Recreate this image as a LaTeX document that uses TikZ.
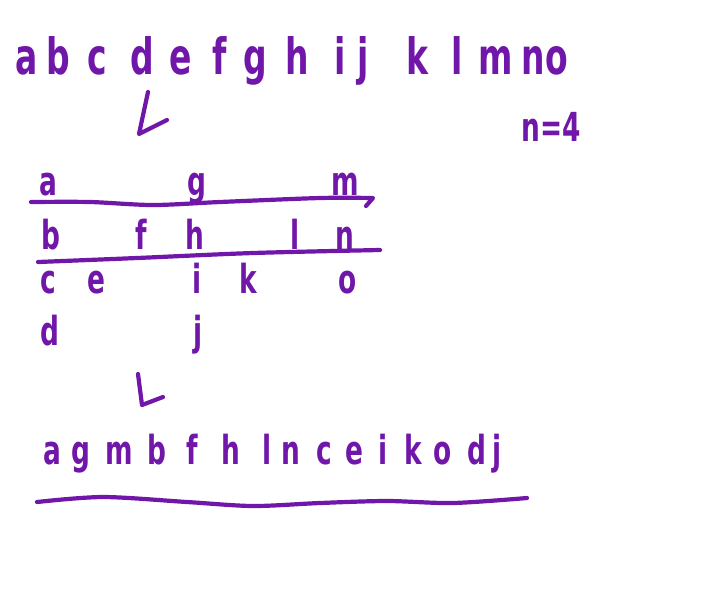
\documentclass[tikz,border=0pt]{standalone}
\usepackage{fontspec}
\setmainfont{DejaVu Sans}[FakeStretch=0.66,UprightFont=* Bold]
\usepackage{tikz}

\definecolor{ink}{RGB}{112,22,168}

\begin{document}
\begin{tikzpicture}[x=1pt,y=-1pt,
    pen/.style={draw=ink,line width=4.2pt,line cap=round,line join=round},
    letter/.style={anchor=base,inner sep=0pt,text=ink,font=\fontsize{40}{44}\selectfont},
    bigletter/.style={letter,font=\fontsize{50}{54}\selectfont}]
\useasboundingbox (0,0) rectangle (708,590);

\newcommand{\hw}[4]{
    \node[bigletter] (#1) at (#2,#3) {#4};
}

\newcommand{\hs}[4]{
    \node[letter] (#1) at (#2,#3) {#4};
}

\newcommand{\hookarrow}[3]{
    \draw[pen] (#1)--(#2)--(#3);
}

% the alphabet
\hw{ta}{27}{74}{a}
\hw{tb}{58}{74}{b}
\hw{tc}{97}{74}{c}
\hw{td}{142}{74}{d}
\hw{te}{181}{74}{e}
\hw{tf}{220}{74}{f}
\hw{tg}{255}{74}{g}
\hw{th}{297}{74}{h}
\hw{ti}{340}{74}{i}
\hw{tj}{363}{74}{j}
\hw{tk}{417}{74}{k}
\hw{tl}{457}{74}{l}
\hw{tm}{496}{74}{m}
\hw{tn}{533}{74}{n}
\hw{to}{557}{74}{o}

\node[letter] (nfour) at (551,141) {n=4};

\coordinate (a1) at (148,92);
\coordinate (b1) at (139,134);
\coordinate (c1) at (167,120);
\hookarrow{a1}{b1}{c1}

% zigzag rows
\hs{ga}{48}{195}{a}
\hs{gg}{197}{195}{g}
\hs{gm}{345}{195}{m}

\draw[pen] plot[smooth] coordinates {(31,202) (90,202) (153,205) (220,202) (320,198) (373,198)} -- (366,206);

\hs{gb}{51}{249}{b}
\hs{gf}{141}{249}{f}
\hs{gh}{195}{249}{h}
\hs{gl}{295}{249}{l}
\hs{gn}{345}{249}{n}

\draw[pen] plot[smooth] coordinates {(38,262) (137,258) (253,253) (380,250)};

\hs{gc}{48}{293}{c}
\hs{ge}{96}{293}{e}
\hs{gi}{197}{293}{i}
\hs{gk}{248}{293}{k}
\hs{go}{348}{293}{o}

\hs{gd}{50}{345}{d}
\hs{gj}{198}{345}{j}

\coordinate (a2) at (138,374);
\coordinate (b2) at (142,405);
\coordinate (c2) at (163,397);
\hookarrow{a2}{b2}{c2}

% read off row by row
\hs{ra}{52}{464}{a}
\hs{rg}{81}{464}{g}
\hs{rm}{119}{464}{m}
\hs{rb}{157}{464}{b}
\hs{rf}{192}{464}{f}
\hs{rh}{231}{464}{h}
\hs{rl}{267}{464}{l}
\hs{rn}{291}{464}{n}
\hs{rc}{324}{464}{c}
\hs{re}{354}{464}{e}
\hs{ri}{383}{464}{i}
\hs{rk}{413}{464}{k}
\hs{ro}{443}{464}{o}
\hs{rd}{477}{464}{d}
\hs{rj}{497}{464}{j}

\draw[pen] plot[smooth] coordinates {(37,502) (103,497) (187,502) (253,506) (320,503) (387,501) (453,503) (527,498)};

\end{tikzpicture}
\end{document}
